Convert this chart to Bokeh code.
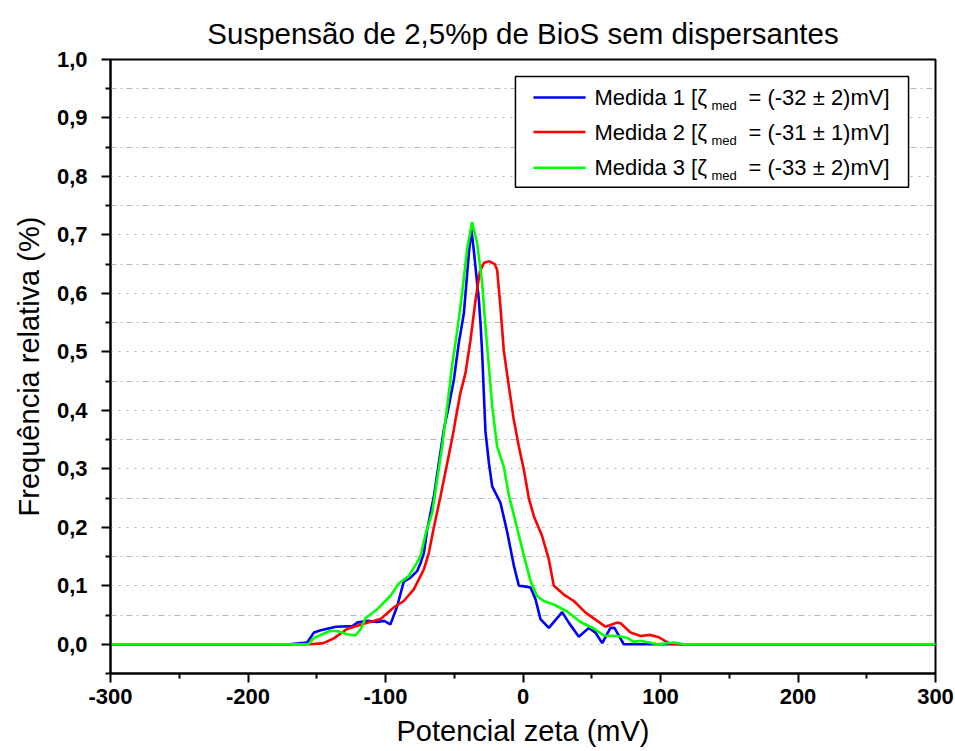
from bokeh.plotting import figure
from bokeh.models import (FixedTicker, CustomJSTickFormatter, BoxAnnotation, Label, Range1d)
from bokeh.embed import file_html
from bokeh.resources import INLINE

# ---- data ----
blue_x = [-300, -170, -157, -152, -147, -136, -124, -120.6, -113, -106, -101, -96.4, -91.5, -86.7,
          -81.8, -77, -74.5, -72.1, -69.7, -64.8, -61.2, -57.6, -54, -50.3, -46.7, -43, -39.4, -37.6,
          -35.8, -32.1, -30.9, -29.7, -28.5, -27.3, -24.8, -22.4, -16.4, -11.5, -6.7, -3, 1, 5.5, 9.1,
          12.7, 18.8, 28.5, 33.3, 40.6, 47.9, 52.7, 57.6, 63.6, 66.5, 73.3, 300]
blue_y = [0, 0, 0.003, 0.020, 0.024, 0.030, 0.031, 0.037, 0.040, 0.038, 0.040, 0.034, 0.065, 0.107,
          0.114, 0.125, 0.139, 0.156, 0.196, 0.253, 0.310, 0.367, 0.407, 0.452, 0.515, 0.566, 0.668, 0.710,
          0.674, 0.589, 0.549, 0.498, 0.430, 0.364, 0.310, 0.270, 0.242, 0.192, 0.135, 0.100, 0.099, 0.097, 0.077,
          0.043, 0.028, 0.055, 0.037, 0.013, 0.028, 0.020, 0.002, 0.028, 0.028, 0, 0]

red_x = [-300, -154.5, -145, -137.6, -128, -115.8, -103.6, -94, -86.7, -79.4, -72.1, -68.5, -64.8, -60,
         -55.1, -52.7, -50.3, -49.1, -45.5, -41.8, -38.2, -34.5, -31.4, -28.5, -24.8, -20.5, -18.8, -16.4,
         -14, -10.3, -6.7, -3, 0.6, 4.2, 7.9, 13.9, 18.8, 22.4, 29.7, 37, 45.5, 54, 60, 68.5, 71, 78.2,
         85.5, 92.7, 98.8, 106, 115, 300]
red_y = [0, 0, 0.002, 0.010, 0.026, 0.035, 0.043, 0.063, 0.074, 0.094, 0.128, 0.156, 0.200, 0.253,
         0.310, 0.338, 0.367, 0.384, 0.430, 0.464, 0.520, 0.589, 0.637, 0.652, 0.655, 0.650, 0.640, 0.577,
         0.503, 0.441, 0.384, 0.338, 0.299, 0.250, 0.219, 0.185, 0.145, 0.100, 0.085, 0.074, 0.054, 0.040,
         0.030, 0.037, 0.036, 0.020, 0.014, 0.016, 0.012, 0.002, 0, 0]

green_x = [-300, -156, -152, -140, -134, -128, -122, -118, -114.5, -106, -96.4, -90.3, -83, -77, -74.5,
           -70.9, -66, -62.4, -58.8, -55.1, -51.5, -47.9, -44.2, -40.6, -37, -33.3, -29.7, -27.3, -24.8,
           -22.4, -18.8, -16.4, -14, -10.3, -4.2, 0.6, 5.5, 10.3, 15.1, 22.4, 32.1, 41.8, 51.5, 58.8, 68.5,
           75.8, 80.6, 85, 90, 97.6, 110, 117, 300]
green_y = [0, 0, 0.011, 0.023, 0.022, 0.017, 0.015, 0.026, 0.045, 0.060, 0.083, 0.104, 0.117, 0.140, 0.151,
           0.188, 0.225, 0.282, 0.338, 0.407, 0.478, 0.535, 0.602, 0.677, 0.722, 0.685, 0.617, 0.543, 0.475,
           0.407, 0.338, 0.321, 0.304, 0.255, 0.198, 0.152, 0.108, 0.082, 0.074, 0.068, 0.056, 0.038, 0.027,
           0.015, 0.014, 0.011, 0.004, 0.006, 0.004, 0, 0.003, 0, 0]

series_names = ["Medida 1", "Medida 2", "Medida 3"]
zeta_text = ["= (-32 ± 2)mV]", "= (-31 ± 1)mV]", "= (-33 ± 2)mV]"]
colors = ["#0000ff", "#ff0000", "#00ff00"]

x_major = [-300, -200, -100, 0, 100, 200, 300]
x_minor = [-250, -150, -50, 50, 150, 250]
y_major = [round(0.1 * i, 1) for i in range(11)]
y_minor = [round(-0.05 + 0.1 * i, 2) for i in range(11)]

FONT = "Liberation Sans"

p = figure(width=955, height=751, output_backend="svg", toolbar_location=None,
           x_range=Range1d(-300, 300), y_range=Range1d(-0.05, 1.0),
           min_border_left=110, min_border_right=20, min_border_top=59, min_border_bottom=78)

p.title.text = "Suspensão de 2,5%p de BioS sem dispersantes"
p.title.align = "center"
p.title.text_font = FONT
p.title.text_font_size = "29.5px"
p.title.text_font_style = "normal"
p.title.text_color = "#000000"
p.title.standoff = 20

p.outline_line_color = "black"
p.outline_line_width = 2
p.background_fill_color = "white"
p.border_fill_color = "white"

# axes
for ax in (p.xaxis[0], p.yaxis[0]):
    ax.axis_line_width = 2
    ax.axis_line_color = "black"
    ax.major_tick_line_width = 2
    ax.minor_tick_line_width = 2
    ax.major_tick_in = 0
    ax.minor_tick_in = 0
    ax.major_tick_out = 9
    ax.minor_tick_out = 5
    ax.major_label_text_font = FONT
    ax.major_label_text_font_size = "22px"
    ax.major_label_text_font_style = "bold"
    ax.major_label_text_color = "black"
    ax.axis_label_text_font = FONT
    ax.axis_label_text_font_size = "29px"
    ax.axis_label_text_font_style = "normal"
    ax.axis_label_text_color = "black"

p.xaxis.ticker = FixedTicker(ticks=x_major, minor_ticks=x_minor)
p.yaxis.ticker = FixedTicker(ticks=y_major, minor_ticks=y_minor)
p.yaxis.formatter = CustomJSTickFormatter(code="return tick.toFixed(1).replace('.', ',');")
p.xaxis.formatter = CustomJSTickFormatter(code="return tick.toFixed(0);")
p.xaxis.axis_label = "Potencial zeta (mV)"
p.yaxis.axis_label = "Frequência relativa (%)"
p.xaxis.major_label_standoff = 6
p.xaxis.axis_label_standoff = 8
p.yaxis.major_label_standoff = 14
p.yaxis.axis_label_standoff = 9

# grid
p.xgrid.grid_line_color = None
p.ygrid.grid_line_color = "#b0b0b0"
p.ygrid.grid_line_width = 1.2
p.ygrid.grid_line_dash = "2 6"
p.ygrid.minor_grid_line_color = "#b8b8b8"
p.ygrid.minor_grid_line_width = 1.2
p.ygrid.minor_grid_line_dash = "6 4 2 4"

# curves
p.line(blue_x, blue_y, line_color=colors[0], line_width=2.6)
p.line(red_x, red_y, line_color=colors[1], line_width=2.6)
p.line(green_x, green_y, line_color=colors[2], line_width=2.6)

# legend (drawn manually to allow the subscript)
p.add_layout(BoxAnnotation(left=-5.5, right=280.4, top=0.971, bottom=0.7816,
                           fill_color="white", fill_alpha=1.0, line_color="black",
                           line_width=1.5, line_alpha=1.0))
row_y = [0.935, 0.876, 0.815]
for i in range(3):
    yy = row_y[i]
    p.add_layout(BoxAnnotation(left=7.6, right=45.5, top=yy + 0.0022, bottom=yy - 0.0022,
                               fill_color=colors[i], fill_alpha=1.0, line_alpha=0))
    p.add_layout(Label(x=52.0, y=yy, text=series_names[i] + " [ζ", text_baseline="middle",
                       text_align="left", text_font=FONT, text_font_size="22px", text_color="black"))
    p.add_layout(Label(x=137.0, y=yy - 0.014, text="med", text_baseline="middle",
                       text_align="left", text_font=FONT, text_font_size="13px", text_color="black"))
    p.add_layout(Label(x=164.0, y=yy, text=zeta_text[i], text_baseline="middle",
                       text_align="left", text_font=FONT, text_font_size="22px", text_color="black"))

open("out.html", "w").write(file_html(p, INLINE))
